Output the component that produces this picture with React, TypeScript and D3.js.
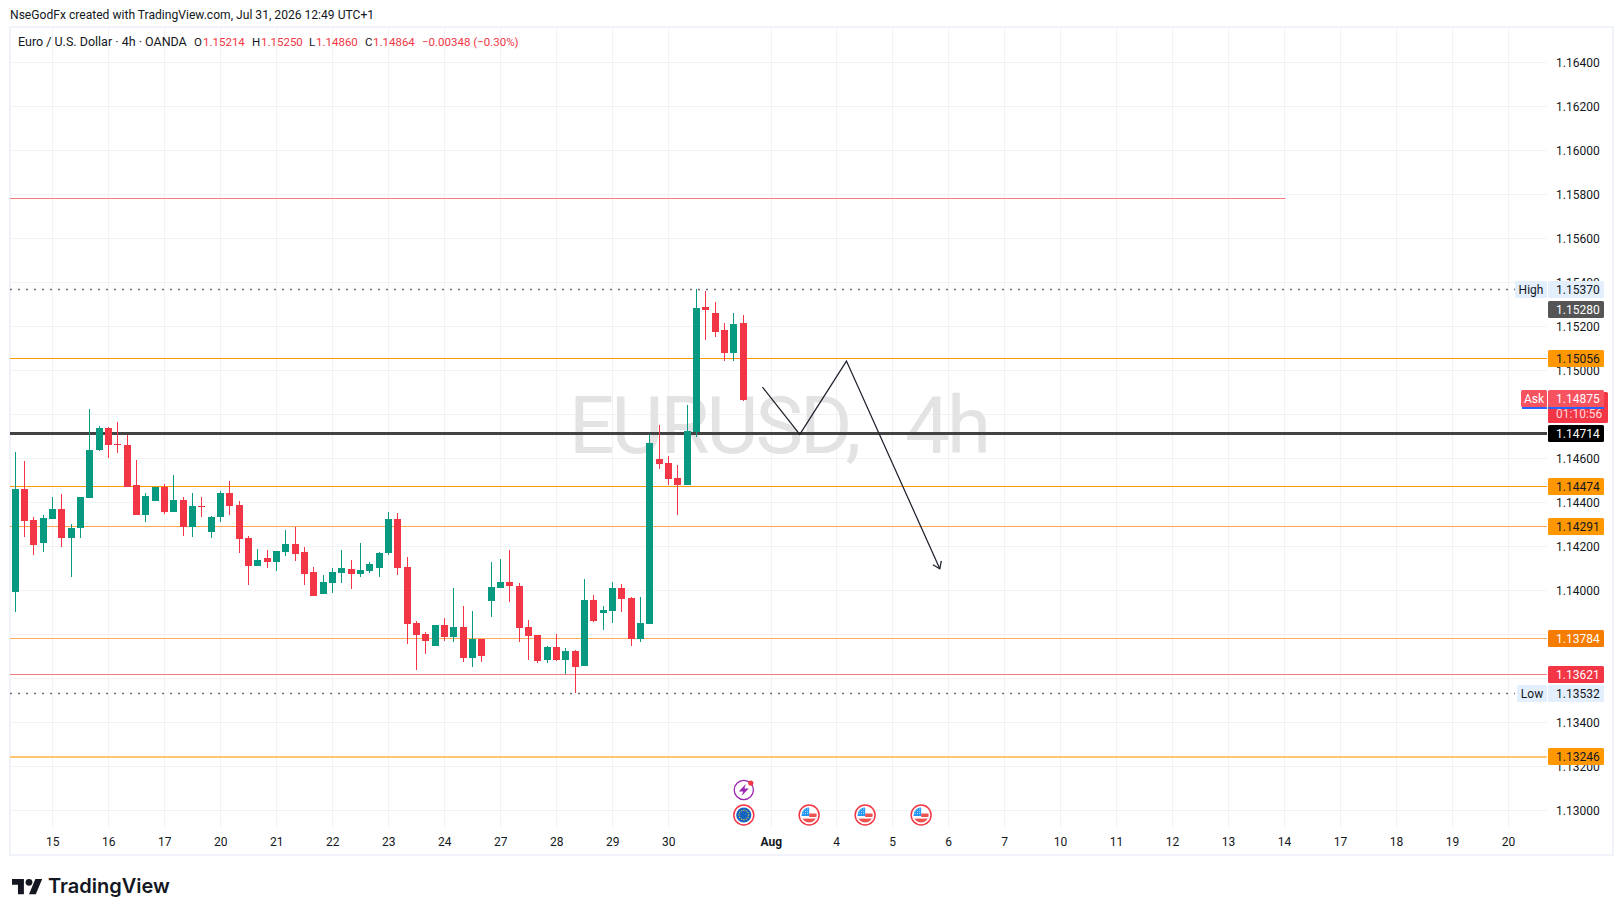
import { useEffect, useRef } from 'react';
import * as d3 from 'd3';

// 4h candles, oldest first
const opens = [1.13992,1.14461,1.14320,1.14215,1.14324,1.14370,1.14238,1.14283,1.14420,1.14638,1.14738,1.14665,1.14661,1.14479,1.14342,1.14406,1.14470,1.14356,1.14411,1.14288,1.14383,1.14265,1.14333,1.14442,1.14388,1.14238,1.14111,1.14147,1.14129,1.14174,1.14211,1.14174,1.14083,1.13983,1.14033,1.14079,1.14097,1.14074,1.14088,1.14102,1.14170,1.14324,1.14106,1.13852,1.13802,1.13747,1.13842,1.13788,1.13833,1.13692,1.13779,1.13952,1.14011,1.14038,1.14020,1.13833,1.13797,1.13683,1.13742,1.13683,1.13724,1.13656,1.13956,1.13897,1.13906,1.14011,1.13965,1.13779,1.13847,1.14597,1.14579,1.14511,1.14479,1.14720,1.15288,1.15260,1.15183,1.15079,1.15214];
const highs = [1.14629,1.14588,1.14333,1.14342,1.14424,1.14438,1.14301,1.14424,1.14824,1.14747,1.14742,1.14765,1.14706,1.14592,1.14442,1.14470,1.14483,1.14524,1.14424,1.14442,1.14424,1.14338,1.14451,1.14497,1.14406,1.14247,1.14188,1.14183,1.14179,1.14274,1.14288,1.14197,1.14106,1.14070,1.14102,1.14183,1.14138,1.14215,1.14129,1.14174,1.14356,1.14351,1.14152,1.13861,1.13811,1.13842,1.13874,1.14011,1.13929,1.13906,1.13779,1.14129,1.14142,1.14183,1.14033,1.13865,1.13797,1.13747,1.13802,1.13738,1.13729,1.14052,1.13979,1.13929,1.14038,1.14029,1.13970,1.13970,1.14711,1.14751,1.14611,1.14570,1.14842,1.15370,1.15360,1.15310,1.15215,1.15260,1.15250];
const lows = [1.13900,1.14242,1.14161,1.14174,1.14324,1.14197,1.14061,1.14238,1.14420,1.14633,1.14601,1.14624,1.14470,1.14342,1.14311,1.14406,1.14347,1.14356,1.14247,1.14242,1.14333,1.14238,1.14311,1.14342,1.14170,1.14024,1.14111,1.14102,1.14088,1.14156,1.14133,1.14024,1.13974,1.13983,1.13988,1.14033,1.14006,1.14061,1.14079,1.14061,1.14161,1.14070,1.13756,1.13638,1.13711,1.13747,1.13770,1.13765,1.13674,1.13652,1.13674,1.13879,1.14011,1.13947,1.13765,1.13683,1.13670,1.13670,1.13679,1.13620,1.13532,1.13656,1.13856,1.13820,1.13852,1.13902,1.13747,1.13765,1.13847,1.14551,1.14479,1.14342,1.14479,1.14698,1.15138,1.15151,1.15042,1.15042,1.14860];
const closes = [1.14461,1.14315,1.14206,1.14329,1.14370,1.14238,1.14283,1.14424,1.14638,1.14738,1.14661,1.14662,1.14470,1.14342,1.14429,1.14470,1.14356,1.14411,1.14288,1.14383,1.14379,1.14333,1.14442,1.14383,1.14233,1.14111,1.14138,1.14129,1.14179,1.14211,1.14165,1.14074,1.13974,1.14038,1.14083,1.14102,1.14074,1.14092,1.14120,1.14170,1.14324,1.14102,1.13847,1.13797,1.13770,1.13842,1.13788,1.13833,1.13692,1.13779,1.13702,1.14015,1.14038,1.14020,1.13829,1.13792,1.13679,1.13742,1.13683,1.13724,1.13652,1.13956,1.13861,1.13911,1.14011,1.13961,1.13779,1.13852,1.14670,1.14574,1.14506,1.14479,1.14724,1.15283,1.15274,1.15174,1.15079,1.15212,1.14864];

const priceTicks = [1.13, 1.132, 1.134, 1.136, 1.138, 1.14, 1.142, 1.144, 1.146, 1.148, 1.15, 1.152, 1.154, 1.156, 1.158, 1.16, 1.162, 1.164];
const timeTicks = [4, 10, 16, 22, 28, 34, 40, 46, 52, 58, 64, 70, 81, 88, 94, 100, 106, 112, 118, 124, 130, 136, 142, 148, 154, 160];
const timeLabels = ['15', '16', '17', '20', '21', '22', '23', '24', '27', '28', '29', '30', 'Aug', '4', '5', '6', '7', '10', '11', '12', '13', '14', '17', '18', '19', '20'];

const levelPrices = [1.15056, 1.14474, 1.14291, 1.13784, 1.13621, 1.13246, 1.14714];
const levelColors = ['#ff9800', '#ff9800', '#ffa64d', '#ffad5c', '#f77c80', '#ffc670', '#434343'];
const levelWidths = [1, 1, 1, 1, 1, 2, 3];
const tagColors = ['#ff9800', '#ff9800', '#ff9800', '#f57c00', '#f23645', '#ff9800', '#000000'];
const tagText = ['#131722', '#131722', '#131722', '#ffffff', '#ffffff', '#131722', '#ffffff'];

const resistancePrice = 1.15785;
const resistanceEnd = 136.1;
const highPrice = 1.1537;
const lowPrice = 1.13532;
const lastPrice = 1.1528;
const askPrice = 1.14875;
const countdown = '01:10:56';

// hand drawn projection
const projectionIdx = [80, 84, 89, 99];
const projectionPrice = [1.14924, 1.14709, 1.15042, 1.14098];

const euEvents = [78];
const usEvents = [85, 91, 97];

const legendValues = [
  { x: 194, text: 'O', red: false }, { x: 203, text: '1.15214', red: true },
  { x: 252, text: 'H', red: false }, { x: 261, text: '1.15250', red: true },
  { x: 309, text: 'L', red: false }, { x: 316, text: '1.14860', red: true },
  { x: 365, text: 'C', red: false }, { x: 373, text: '1.14864', red: true },
  { x: 422, text: '\u22120.00348 (\u22120.30%)', red: true },
];

const UP = '#089981';
const DOWN = '#f23645';
const FONT = 'Roboto, sans-serif';
const W = 1623;
const H = 916;

export default function App() {
  const svgRef = useRef<SVGSVGElement>(null);

  useEffect(() => {
    if (!svgRef.current) return;
    d3.select(svgRef.current).selectAll('*').remove();
    const svg = d3.select(svgRef.current);

    const paneL = 10, paneR = 1547, paneT = 27, paneB = 828;

    const x = d3.scaleLinear().domain([0, 160]).range([15.33, 1508.6]);
    const y = d3.scaleLinear().domain([1.13, 1.164]).range([810.3, 62.3]);
    const px = (i: number) => Math.floor(x(i));
    // keep horizontal rules on whole pixels, like the canvas does
    const crisp = (p: number, w: number) => (w % 2 ? Math.round(y(p)) + 0.5 : Math.round(y(p) + 0.5));

    svg.append('rect').attr('width', W).attr('height', H).attr('fill', '#fff');

    // frame
    svg.append('rect')
      .attr('x', paneL).attr('y', 27).attr('width', 1603).attr('height', 828)
      .attr('fill', 'none').attr('stroke', '#f0f3fa').attr('stroke-width', 2);

    svg.append('text')
      .attr('x', 10).attr('y', 19)
      .attr('font-family', FONT).attr('font-size', 12.1).attr('fill', '#131722')
      .text('NseGodFx created with TradingView.com, Jul 31, 2026 12:49 UTC+1');

    // grid
    const grid = svg.append('g').attr('stroke', '#f2f2f2').attr('stroke-width', 1);
    priceTicks.forEach(p => {
      const yy = Math.round(y(p)) + 0.5;
      grid.append('line').attr('x1', paneL + 1).attr('x2', paneR).attr('y1', yy).attr('y2', yy);
    });
    timeTicks.forEach(t => {
      grid.append('line').attr('x1', px(t) + 0.5).attr('x2', px(t) + 0.5).attr('y1', paneT + 1).attr('y2', paneB);
    });

    // watermark
    svg.append('text')
      .attr('x', (paneL + paneR) / 2).attr('y', 453)
      .attr('text-anchor', 'middle')
      .attr('font-family', FONT).attr('font-size', 80).attr('fill', '#e3e3e3')
      .attr('letter-spacing', -3).attr('word-spacing', 30)
      .text('EURUSD, 4h');

    // horizontal levels
    levelPrices.forEach((p, i) => {
      const yy = crisp(p, levelWidths[i]);
      svg.append('line')
        .attr('x1', paneL).attr('x2', paneR)
        .attr('y1', yy).attr('y2', yy)
        .attr('stroke', levelColors[i]).attr('stroke-width', levelWidths[i]);
    });
    svg.append('line')
      .attr('x1', paneL).attr('x2', x(resistanceEnd))
      .attr('y1', crisp(resistancePrice, 1)).attr('y2', crisp(resistancePrice, 1))
      .attr('stroke', '#f77c80').attr('stroke-width', 1);

    // candles
    const candles = svg.append('g');
    opens.forEach((o, i) => {
      const c = closes[i];
      const color = c >= o ? UP : DOWN;
      const top = Math.round(y(Math.max(o, c)));
      const bot = Math.round(y(Math.min(o, c)));
      candles.append('rect')
        .attr('x', px(i)).attr('width', 1)
        .attr('y', Math.round(y(highs[i])))
        .attr('height', Math.round(y(lows[i])) - Math.round(y(highs[i])))
        .attr('fill', color);
      candles.append('rect')
        .attr('x', px(i) - 3).attr('width', 7)
        .attr('y', top).attr('height', Math.max(1, bot - top))
        .attr('fill', color);
    });

    // high / low markers
    [highPrice, lowPrice].forEach(p => {
      svg.append('line')
        .attr('x1', paneL).attr('x2', 1515)
        .attr('y1', Math.round(y(p)) + 0.5).attr('y2', Math.round(y(p)) + 0.5)
        .attr('stroke', '#6a6d78').attr('stroke-width', 1.5).attr('stroke-dasharray', '2 6');
    });

    // projection path with arrow
    const pts = projectionIdx.map((d, i) => [x(d) + 0.5, y(projectionPrice[i])] as [number, number]);
    const line = d3.line();
    const drawing = svg.append('g').attr('fill', 'none').attr('stroke', '#1e222d').attr('stroke-width', 1.25);
    drawing.append('path').attr('d', line(pts));
    const tip = pts[pts.length - 1];
    const prev = pts[pts.length - 2];
    const ang = Math.atan2(tip[1] - prev[1], tip[0] - prev[0]);
    const head = [ang + Math.PI - 0.62, ang + Math.PI + 0.62].map(a => [tip[0] + 8 * Math.cos(a), tip[1] + 8 * Math.sin(a)] as [number, number]);
    drawing.append('path').attr('d', line([head[0], tip, head[1]]));

    // event icons
    const rowY = 815;
    const defs = svg.append('defs');
    defs.append('clipPath').attr('id', 'flag-clip').append('circle').attr('r', 7.6);
    const ring = (cx: number) => {
      const g = svg.append('g').attr('transform', `translate(${cx},${rowY})`);
      g.append('circle').attr('r', 10).attr('fill', '#fff').attr('stroke', '#f23645').attr('stroke-width', 1.5);
      return g;
    };
    euEvents.forEach(i => {
      const g = ring(x(i) + 0.5);
      g.append('circle').attr('r', 7.6).attr('fill', '#1565c0');
      d3.range(12).forEach(k => {
        const a = (k / 12) * 2 * Math.PI;
        g.append('circle').attr('cx', 4.8 * Math.cos(a)).attr('cy', 4.8 * Math.sin(a)).attr('r', 0.7).attr('fill', '#f5c542');
      });
      const bolt = svg.append('g').attr('transform', `translate(${x(i) + 0.5},790)`);
      bolt.append('circle').attr('r', 9.6).attr('fill', '#fff').attr('stroke', '#9c27b0').attr('stroke-width', 1.3);
      bolt.append('path').attr('d', 'M2 -6 L-5 1.5 L-0.6 1.5 L-2.2 6 L5 -1.5 L0.6 -1.5 Z').attr('fill', '#9c27b0');
      bolt.append('circle').attr('cx', 7).attr('cy', -7).attr('r', 2.6).attr('fill', '#f23645');
    });
    usEvents.forEach(i => {
      const g = ring(x(i) + 0.5);
      const f = g.append('g').attr('clip-path', 'url(#flag-clip)');
      f.append('rect').attr('x', -8).attr('y', -8).attr('width', 16).attr('height', 16).attr('fill', '#fff');
      f.append('rect').attr('x', 0).attr('y', -1.5).attr('width', 8).attr('height', 3.5).attr('fill', '#ef5350');
      f.append('rect').attr('x', -8).attr('y', 3.6).attr('width', 16).attr('height', 4.4).attr('fill', '#ef5350');
      f.append('rect').attr('x', -8).attr('y', -8).attr('width', 8).attr('height', 9).attr('fill', '#2196f3');
      d3.range(3).forEach(r => d3.range(3).forEach(cc => {
        f.append('rect').attr('x', -6.5 + cc * 2.3).attr('y', -6.5 + r * 2.3).attr('width', 0.9).attr('height', 0.9).attr('fill', '#e3f2fd');
      }));
    });

    // price axis
    const yAxis = svg.append('g')
      .attr('transform', 'translate(1556,0)')
      .call(d3.axisRight(y).tickValues(priceTicks).tickFormat(d => (+d).toFixed(5)).tickSize(0).tickPadding(0));
    yAxis.select('.domain').remove();
    yAxis.selectAll('text')
      .attr('font-family', FONT).attr('font-size', 12).attr('fill', '#131722');

    // time axis
    const xAxis = svg.append('g')
      .attr('transform', 'translate(-0.5,837)')
      .call(d3.axisBottom(x).tickValues(timeTicks).tickFormat((_, i) => timeLabels[i]).tickSize(0).tickPadding(0));
    xAxis.select('.domain').remove();
    xAxis.selectAll('text')
      .attr('font-family', FONT).attr('font-size', 12).attr('fill', '#131722');
    xAxis.selectAll('text').filter(d => d === 81).attr('font-weight', 700);

    // price tags on the axis
    const tag = (yy: number, w: number, text: string, bg: string, fg: string) => {
      const c = Math.round(yy);
      svg.append('rect').attr('x', 1548).attr('y', c - 8).attr('width', w).attr('height', 17).attr('rx', 1.5).attr('fill', bg);
      svg.append('text')
        .attr('x', 1556).attr('y', c + 4.5)
        .attr('font-family', FONT).attr('font-size', 12).attr('fill', fg)
        .text(text);
    };
    const sideTag = (yy: number, left: number, text: string, bg: string, fg: string) => {
      const c = Math.round(yy);
      svg.append('rect').attr('x', left).attr('y', c - 8).attr('width', 1547 - left).attr('height', 17).attr('rx', 1.5).attr('fill', bg);
      svg.append('text')
        .attr('x', (left + 1547) / 2).attr('y', c + 4.5).attr('text-anchor', 'middle')
        .attr('font-family', FONT).attr('font-size', 12).attr('fill', fg)
        .text(text);
    };

    tag(y(highPrice), 56, highPrice.toFixed(5), '#e3effd', '#131722');
    sideTag(y(highPrice), 1515, 'High', '#e3effd', '#131722');
    tag(y(lowPrice), 56, lowPrice.toFixed(5), '#e3effd', '#131722');
    sideTag(y(lowPrice), 1517, 'Low', '#e3effd', '#131722');
    tag(y(lastPrice), 56, lastPrice.toFixed(5), '#555555', '#ffffff');
    levelPrices.forEach((p, i) => tag(y(p), 56, p.toFixed(5), tagColors[i], tagText[i]));

    // ask tag with countdown under it
    const askY = Math.round(y(askPrice));
    svg.append('rect').attr('x', 1548).attr('y', askY - 6).attr('width', 60).attr('height', 31).attr('rx', 1.5).attr('fill', DOWN);
    svg.append('text').attr('x', 1556).attr('y', askY + 20)
      .attr('font-family', FONT).attr('font-size', 12).attr('fill', '#ffd9dc').text(countdown);
    svg.append('rect').attr('x', 1548).attr('y', askY + 9).attr('width', 56).attr('height', 2).attr('fill', '#2962ff');
    svg.append('rect').attr('x', 1522).attr('y', askY + 9).attr('width', 25).attr('height', 2).attr('fill', '#2962ff');
    tag(y(askPrice), 56, askPrice.toFixed(5), '#f7525f', '#ffffff');
    sideTag(y(askPrice), 1521, 'Ask', '#f7525f', '#ffffff');

    // legend
    const legend = svg.append('g').attr('font-family', FONT).attr('font-size', 11.5);
    legend.append('text').attr('x', 18).attr('y', 46).attr('font-size', 12.5).attr('fill', '#131722').text('Euro / U.S. Dollar \u00b7 4h \u00b7 OANDA');
    legendValues.forEach(v => {
      legend.append('text').attr('x', v.x).attr('y', 46).attr('fill', v.red ? DOWN : '#131722').text(v.text);
    });

    // logo
    const logo = svg.append('g').attr('transform', 'translate(12,875.5) scale(0.85)').attr('fill', '#131722');
    logo.append('path').attr('d', 'M14 22H7V11H0V4h14v18zM28 22h-8l7.5-18h8L28 22z');
    logo.append('circle').attr('cx', 20).attr('cy', 8).attr('r', 4);
    svg.append('text')
      .attr('x', 48).attr('y', 893)
      .attr('font-family', 'Inter, sans-serif').attr('font-size', 20).attr('font-weight', 600).attr('fill', '#131722')
      .text('TradingView');
  }, []);

  return (
    <svg
      ref={svgRef}
      width={W}
      height={H}
      style={{ position: 'absolute', left: 0, top: 0, display: 'block' }}
    />
  );
}
